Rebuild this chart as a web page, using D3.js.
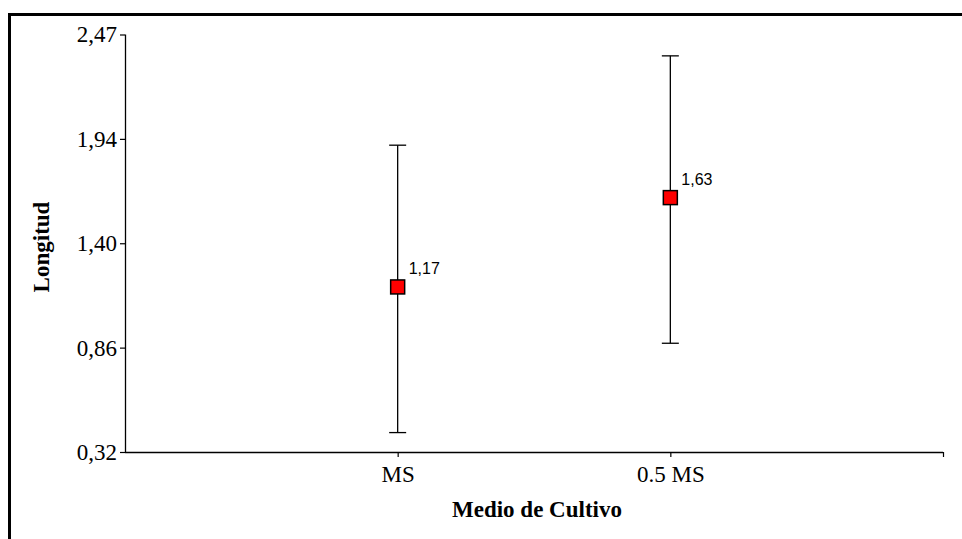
<!DOCTYPE html>
<html>
<head>
<meta charset="utf-8">
<script src="https://d3js.org/d3.v7.min.js"></script>
<style>
  body { margin: 0; background: #fff; }
  svg { display: block; }
</style>
</head>
<body>
<div id="chart"></div>
<script>
const width = 962
const height = 539

// data
const categories = ["MS", "0.5 MS"]
const means = [1.17, 1.63]
const lower = [0.42, 0.88]
const upper = [1.90, 2.36]
const meanLabels = ["1,17", "1,63"]
const yTicks = [0.32, 0.8575, 1.395, 1.9325, 2.47]
const yTickLabels = ["0,32", "0,86", "1,40", "1,94", "2,47"]

const margin = {left: 125, top: 34.5, right: 19, bottom: 87}
const serif = "'Liberation Serif', 'Times New Roman', serif"

const svg = d3.select("#chart")
              .append("svg")
              .attr("width", width)
              .attr("height", height)

// outer frame (runs off the right and bottom of the picture)
svg.append("rect")
   .attr("x", 9.5)
   .attr("y", 14.5)
   .attr("width", 1000)
   .attr("height", 600)
   .attr("fill", "none")
   .attr("stroke", "#000")
   .attr("stroke-width", 3)

const x = d3.scaleLinear()
            .domain([0, 3])
            .range([margin.left, width - margin.right])

const y = d3.scaleLinear()
            .domain([0.32, 2.47])
            .range([height - margin.bottom, margin.top])

//Axes
const yAxis = d3.axisLeft(y)
                .tickValues(yTicks)
                .tickFormat((d, i) => yTickLabels[i])
                .tickSize(5)
                .tickPadding(3)

const xAxis = d3.axisBottom(x)
                .tickValues([1, 2, 3])
                .tickFormat(d => categories[d - 1] || "")
                .tickSize(5)
                .tickPadding(9)

const gy = svg.append("g")
              .attr("transform", "translate(" + x(0) + ",0)")
              .call(yAxis)

const gx = svg.append("g")
              .attr("transform", "translate(0," + y(0.32) + ")")
              .call(xAxis)

;[gx, gy].forEach(g => {
  g.select(".domain").attr("d", g === gx
      ? "M" + x(0) + ",0.5H" + x(3)
      : "M0.5," + y(0.32) + "V" + y(2.47))
    .attr("stroke", "#000").attr("stroke-width", 1.3)
  g.selectAll(".tick line").attr("stroke", "#000").attr("stroke-width", 1.2)
  g.selectAll(".tick text")
   .attr("fill", "#000")
   .style("font-family", serif)
   .style("font-size", "23px")
})

//Error bars
const bars = svg.append("g")
                .selectAll("g")
                .data(categories)
                .enter()
                .append("g")

bars.append("line")
    .attr("x1", (d, i) => x(i + 1))
    .attr("x2", (d, i) => x(i + 1))
    .attr("y1", (d, i) => y(upper[i]))
    .attr("y2", (d, i) => y(lower[i]))
    .attr("stroke", "#000")
    .attr("stroke-width", 1.3)

bars.selectAll(".cap")
    .data((d, i) => [upper[i], lower[i]].map(v => ({i: i, v: v})))
    .enter()
    .append("line")
    .attr("class", "cap")
    .attr("x1", d => x(d.i + 1) - 8.5)
    .attr("x2", d => x(d.i + 1) + 8.5)
    .attr("y1", d => y(d.v))
    .attr("y2", d => y(d.v))
    .attr("stroke", "#000")
    .attr("stroke-width", 1.3)

bars.append("rect")
    .attr("x", (d, i) => x(i + 1) - 7)
    .attr("y", (d, i) => y(means[i]) - 7)
    .attr("width", 14)
    .attr("height", 14)
    .attr("fill", "#ff0000")
    .attr("stroke", "#000")
    .attr("stroke-width", 1.5)

bars.append("text")
    .attr("x", (d, i) => x(i + 1) + 11)
    .attr("y", (d, i) => y(means[i]) - 13)
    .style("font-family", "'Liberation Sans', Arial, sans-serif")
    .style("font-size", "16px")
    .text((d, i) => meanLabels[i])

//Axis titles
svg.append("text")
   .attr("x", 537)
   .attr("y", 517)
   .attr("text-anchor", "middle")
   .style("font-family", serif)
   .style("font-size", "23px")
   .style("font-weight", "bold")
   .text("Medio de Cultivo")

svg.append("text")
   .attr("transform", "translate(49,247) rotate(-90)")
   .attr("text-anchor", "middle")
   .style("font-family", serif)
   .style("font-size", "23px")
   .style("font-weight", "bold")
   .text("Longitud")
</script>
</body>
</html>
